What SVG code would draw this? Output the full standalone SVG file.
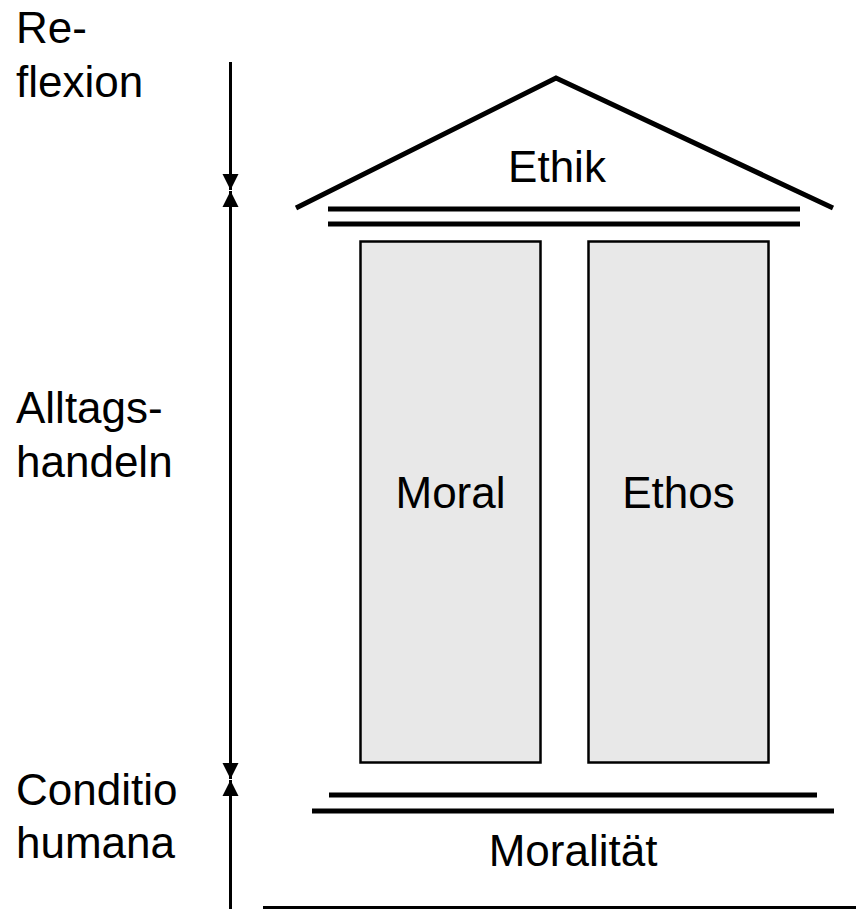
<svg xmlns="http://www.w3.org/2000/svg" width="856" height="909" viewBox="0 0 856 909">
<style>
text{font-family:"Liberation Sans",Arial,sans-serif;font-size:44px;fill:#000}
.mid{text-anchor:middle}
.pillar{fill:#e8e8e8;stroke:#000;stroke-width:2.5}
.bar{stroke:#000;stroke-width:5;fill:none}
.ax{stroke:#000;stroke-width:3;fill:none}
</style>
<defs>
<marker id="ah" markerWidth="17" markerHeight="17" refX="16" refY="8" orient="auto" markerUnits="userSpaceOnUse" overflow="visible">
<path d="M0,0 L16,8 L0,16 Z" fill="#000"/>
</marker>
</defs>
<g id="labels">
<text x="16" y="43">Re-</text>
<text x="16" y="97">flexion</text>
<text x="16" y="423">Alltags-</text>
<text x="16" y="477">handeln</text>
<text x="16" y="805">Conditio</text>
<text x="16" y="858">humana</text>
</g>
<g id="connectors">
<line class="ax" x1="230.5" y1="62" x2="230.5" y2="190" marker-end="url(#ah)"/>
<line class="ax" x1="230.5" y1="763" x2="230.5" y2="191" marker-end="url(#ah)"/>
<line class="ax" x1="230.5" y1="763" x2="230.5" y2="779" marker-end="url(#ah)"/>
<line class="ax" x1="230.5" y1="909" x2="230.5" y2="780" marker-end="url(#ah)"/>
</g>
<g id="ethik">
<polyline points="296,208 556,78 833,208" fill="none" stroke="#000" stroke-width="5"/>
<line class="bar" x1="328" y1="209" x2="800" y2="209"/>
<line class="bar" x1="328" y1="224" x2="800" y2="224"/>
<text class="mid" x="557" y="182">Ethik</text>
</g>
<g id="moral">
<rect class="pillar" x="360.5" y="241.5" width="180" height="521"/>
<text class="mid" x="450.5" y="508">Moral</text>
</g>
<g id="ethos">
<rect class="pillar" x="588.5" y="241.5" width="180" height="521"/>
<text class="mid" x="678.5" y="508">Ethos</text>
</g>
<g id="moralitaet">
<line class="bar" x1="329" y1="795" x2="817" y2="795"/>
<line class="bar" x1="312" y1="811" x2="834" y2="811"/>
<text class="mid" x="573" y="866">Moralität</text>
<line x1="263" y1="907.5" x2="856" y2="907.5" stroke="#000" stroke-width="3"/>
</g>
</svg>
